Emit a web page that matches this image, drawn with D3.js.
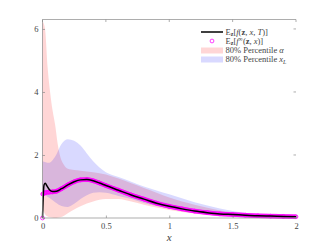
<!DOCTYPE html>
<html>
<head>
<meta charset="utf-8">
<script src="https://cdn.jsdelivr.net/npm/d3@7"></script>
<style>
    body { margin: 0; background: #fff; }
    svg { display: block; }
    text { font-family: "Liberation Serif", "DejaVu Serif", serif; fill: #444; }
</style>
</head>
<body>
<script>
const X_TICKS = [0, 0.5, 1, 1.5, 2];
const Y_TICKS = [0, 2, 4, 6];

// E_z[f(z,x,T)]
const MEAN_X = [0, 0.004, 0.012, 0.022, 0.035, 0.055, 0.08, 0.11, 0.15, 0.2, 0.25, 0.3, 0.35, 0.4, 0.45, 0.5, 0.6, 0.7, 0.8, 0.9, 1.0, 1.1, 1.2, 1.3, 1.4, 1.5, 1.6, 1.7, 1.8, 1.9, 2.0];
const MEAN_Y = [0, 0.5, 1.05, 1.1, 1.02, 0.9, 0.84, 0.85, 0.93, 1.05, 1.15, 1.21, 1.22, 1.18, 1.11, 1.03, 0.88, 0.73, 0.6, 0.47, 0.37, 0.29, 0.22, 0.17, 0.13, 0.11, 0.09, 0.07, 0.06, 0.05, 0.04];

// E_z[f^inf(z,x)]
const INF_X = [0, 0.003, 0.02, 0.05, 0.08, 0.11, 0.15, 0.2, 0.25, 0.3, 0.35, 0.4, 0.45, 0.5, 0.6, 0.7, 0.8, 0.9, 1.0, 1.1, 1.2, 1.3, 1.4, 1.5, 1.6, 1.7, 1.8, 1.9, 2.0];
const INF_Y = [0, 0.76, 0.8, 0.82, 0.83, 0.85, 0.93, 1.05, 1.15, 1.21, 1.22, 1.18, 1.11, 1.03, 0.88, 0.73, 0.6, 0.47, 0.37, 0.29, 0.22, 0.17, 0.13, 0.11, 0.09, 0.07, 0.06, 0.05, 0.04];

// 80% percentile alpha
const ALPHA_X = [0, 0.02, 0.04, 0.06, 0.08, 0.1, 0.12, 0.14, 0.17, 0.2, 0.25, 0.3, 0.4, 0.5, 0.6, 0.7, 0.8, 0.9, 1.0, 1.2, 1.4, 1.6, 1.8, 2.0];
const ALPHA_LOW = [0.3, 0.12, 0.05, 0.02, 0.01, 0.0, 0.01, 0.02, 0.07, 0.15, 0.27, 0.37, 0.52, 0.6, 0.6, 0.52, 0.42, 0.33, 0.25, 0.14, 0.07, 0.04, 0.03, 0.02];
const ALPHA_HIGH = [6.25, 6.0, 4.8, 4.0, 3.4, 2.95, 2.35, 1.95, 1.68, 1.56, 1.52, 1.5, 1.45, 1.38, 1.25, 1.1, 0.95, 0.8, 0.65, 0.42, 0.24, 0.13, 0.08, 0.06];

// 80% percentile x_L
const XL_X = [0, 0.05, 0.1, 0.15, 0.2, 0.25, 0.3, 0.35, 0.4, 0.45, 0.5, 0.6, 0.7, 0.8, 0.9, 1.0, 1.2, 1.4, 1.6, 1.8, 2.0];
const XL_LOW = [0.75, 0.65, 0.5, 0.38, 0.35, 0.45, 0.6, 0.72, 0.8, 0.82, 0.8, 0.7, 0.6, 0.48, 0.38, 0.3, 0.18, 0.1, 0.06, 0.04, 0.03];
const XL_HIGH = [1.8, 1.75, 1.95, 2.35, 2.5, 2.45, 2.3, 2.05, 1.8, 1.6, 1.45, 1.3, 1.15, 1.0, 0.87, 0.75, 0.5, 0.3, 0.16, 0.08, 0.05];

const WIDTH = 328;
const HEIGHT = 246;
const LEFT = 42.5, RIGHT = 296, TOP = 19.5, BOTTOM = 218;
const AXIS_COLOR = "#8a8a8a";
const SERIF = "\"Liberation Serif\", \"DejaVu Serif\", serif";

const svg = d3.select("body").append("svg")
    .attr("width", WIDTH)
    .attr("height", HEIGHT);

const xScale = d3.scaleLinear().domain([0, 2]).range([LEFT, RIGHT]);
const yScale = d3.scaleLinear().domain([0, 6.3]).range([BOTTOM, TOP]);

const band = (xs, lows, highs) => xs.map((x, i) => ({ x: x, low: lows[i], high: highs[i] }));
const points = (xs, ys) => xs.map((x, i) => ({ x: x, y: ys[i] }));

const area = d3.area()
    .x(d => xScale(d.x))
    .y0(d => yScale(d.low))
    .y1(d => yScale(d.high))
    .curve(d3.curveMonotoneX);

const line = d3.line()
    .x(d => xScale(d.x))
    .y(d => yScale(d.y))
    .curve(d3.curveMonotoneX);

// bands
svg.append("path")
    .datum(band(ALPHA_X, ALPHA_LOW, ALPHA_HIGH))
    .attr("d", area)
    .attr("fill", "#ff0000")
    .attr("fill-opacity", 0.16);

svg.append("path")
    .datum(band(XL_X, XL_LOW, XL_HIGH))
    .attr("d", area)
    .attr("fill", "#0000ff")
    .attr("fill-opacity", 0.15);

// f^inf markers: at data points, and densely along the curve
const infPoints = points(INF_X, INF_Y);
const guide = svg.append("path")
    .datum(infPoints.slice(1))
    .attr("d", line)
    .attr("fill", "none")
    .attr("stroke", "none");
const guideNode = guide.node();
const total = guideNode.getTotalLength();
const samples = d3.range(0, total, 1.1).map(l => guideNode.getPointAtLength(l));
infPoints.forEach(d => samples.push({ x: xScale(d.x), y: yScale(d.y) }));

svg.append("g")
    .selectAll("circle")
    .data(samples)
    .enter()
    .append("circle")
    .attr("cx", d => d.x)
    .attr("cy", d => d.y)
    .attr("r", 1.9)
    .attr("fill", "none")
    .attr("stroke", "#ff00ff")
    .attr("stroke-width", 0.75);

// mean line
svg.append("path")
    .datum(points(MEAN_X, MEAN_Y))
    .attr("d", line)
    .attr("fill", "none")
    .attr("stroke", "#000")
    .attr("stroke-width", 1.5);

// axes frame
const frame = svg.append("g")
    .attr("stroke", AXIS_COLOR)
    .attr("stroke-width", 0.7);
frame.append("line").attr("x1", LEFT).attr("x2", RIGHT).attr("y1", BOTTOM).attr("y2", BOTTOM);
frame.append("line").attr("x1", LEFT).attr("x2", RIGHT).attr("y1", TOP).attr("y2", TOP);
frame.append("line").attr("x1", LEFT).attr("x2", LEFT).attr("y1", TOP).attr("y2", BOTTOM);

const xAxis = d3.axisBottom(xScale)
    .tickValues(X_TICKS)
    .tickSizeInner(-2.5)
    .tickSizeOuter(0)
    .tickPadding(5)
    .tickFormat(d3.format("~g"));
const gx = svg.append("g")
    .attr("transform", `translate(0, ${BOTTOM})`)
    .call(xAxis);

const yAxis = d3.axisLeft(yScale)
    .tickValues(Y_TICKS)
    .tickSizeInner(-2.5)
    .tickSizeOuter(0)
    .tickPadding(4)
    .tickFormat(d3.format("d"));
const gy = svg.append("g")
    .attr("transform", `translate(${LEFT}, 0)`)
    .call(yAxis);

[gx, gy].forEach(g => {
    g.select(".domain").remove();
    g.attr("font-family", null);
    g.selectAll("line").attr("stroke", AXIS_COLOR).attr("stroke-width", 0.7);
    g.selectAll("text")
        .attr("font-size", 8.5)
        .style("font-family", SERIF)
        .attr("fill", "#555");
});

// mirrored ticks on top and right
svg.append("g")
    .selectAll("line")
    .data(X_TICKS)
    .enter()
    .append("line")
    .attr("x1", d => xScale(d)).attr("x2", d => xScale(d))
    .attr("y1", TOP).attr("y2", TOP + 2.5)
    .attr("stroke", AXIS_COLOR).attr("stroke-width", 0.7);
svg.append("g")
    .selectAll("line")
    .data(Y_TICKS)
    .enter()
    .append("line")
    .attr("x1", RIGHT - 2.5).attr("x2", RIGHT)
    .attr("y1", d => yScale(d)).attr("y2", d => yScale(d))
    .attr("stroke", AXIS_COLOR).attr("stroke-width", 0.7);

// x label
svg.append("text")
    .attr("x", xScale(1))
    .attr("y", 241)
    .attr("text-anchor", "middle")
    .attr("font-size", 11)
    .attr("font-style", "italic")
    .style("font-family", SERIF)
    .text("x");

// legend
const legend = svg.append("g").attr("font-size", 8.5);
const LX0 = 201, LX1 = 223, TX = 225.5;
const rows = [32, 41, 50.5, 59.5];

legend.append("line")
    .attr("x1", LX0).attr("x2", LX1)
    .attr("y1", rows[0]).attr("y2", rows[0])
    .attr("stroke", "#000").attr("stroke-width", 1.5);
legend.append("circle")
    .attr("cx", (LX0 + LX1) / 2).attr("cy", rows[1]).attr("r", 1.9)
    .attr("fill", "none").attr("stroke", "#ff00ff").attr("stroke-width", 0.75);
legend.append("rect")
    .attr("x", LX0).attr("y", rows[2] - 3).attr("width", LX1 - LX0).attr("height", 6)
    .attr("fill", "#ff0000").attr("fill-opacity", 0.16);
legend.append("rect")
    .attr("x", LX0).attr("y", rows[3] - 3).attr("width", LX1 - LX0).attr("height", 6)
    .attr("fill", "#0000ff").attr("fill-opacity", 0.15);

const addLabel = (y, parts) => {
    const t = legend.append("text")
        .attr("x", TX)
        .attr("y", y)
        .attr("dy", "0.35em")
        .style("font-family", SERIF);
    parts.forEach(p => {
        const s = t.append("tspan").text(p.text);
        if (p.italic) s.attr("font-style", "italic");
        if (p.bold) s.attr("font-weight", "bold");
        if (p.sub) s.attr("font-size", 6).attr("dy", 1.5);
        if (p.sup) s.attr("font-size", 6).attr("dy", -2.5);
        if (p.reset) s.attr("dy", p.reset);
    });
};

addLabel(rows[0], [
    { text: "E" }, { text: "z", bold: true, sub: true },
    { text: "[", reset: -1.5 }, { text: "f", italic: true }, { text: "(" },
    { text: "z", bold: true }, { text: ", " }, { text: "x", italic: true },
    { text: ", " }, { text: "T", italic: true }, { text: ")]" }
]);
addLabel(rows[1], [
    { text: "E" }, { text: "z", bold: true, sub: true },
    { text: "[", reset: -1.5 }, { text: "f", italic: true }, { text: "∞", sup: true },
    { text: "(", reset: 2.5 }, { text: "z", bold: true }, { text: ", " },
    { text: "x", italic: true }, { text: ")]" }
]);
addLabel(rows[2], [{ text: "80% Percentile " }, { text: "α", italic: true }]);
addLabel(rows[3], [
    { text: "80% Percentile " }, { text: "x", italic: true }, { text: "L", italic: true, sub: true }
]);
</script>
</body>
</html>
